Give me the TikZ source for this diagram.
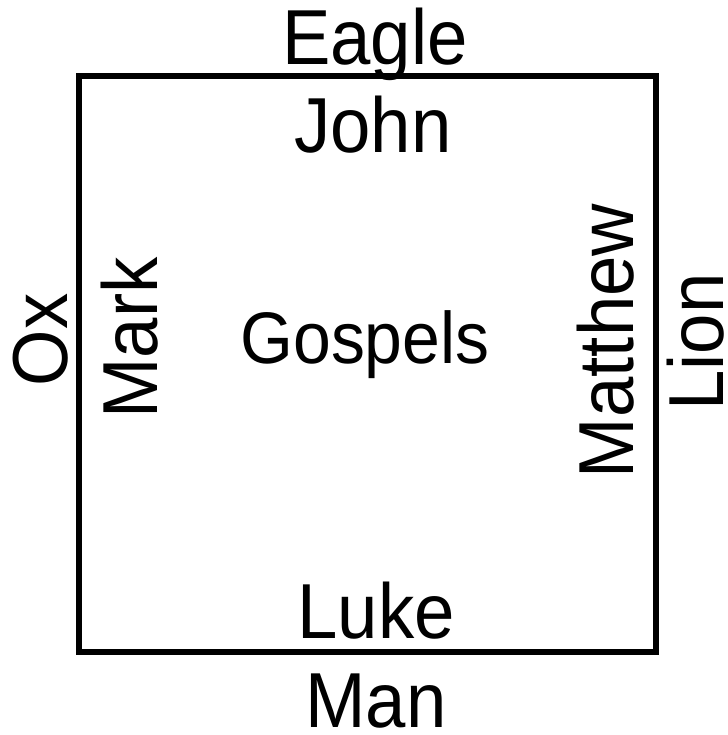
\documentclass[tikz,border=0pt]{standalone}
\usepackage{fontspec}
\setmainfont{Liberation Sans}[FakeStretch=0.93]
\usetikzlibrary{positioning}

\begin{document}
\begin{tikzpicture}[x=1pt,y=-1pt,
  word/.style={font=\fontsize{78}{80}\selectfont, inner sep=0pt, anchor=base},
  upword/.style={word, rotate=90}]
\useasboundingbox (0,0) rectangle (727,735);
\draw[line width=6pt] (79,76) rectangle (656,652);

% symbols outside, names inside
\node[word] (eagle) at (375,65) {Eagle};
\node[word] (john) at (373,153) {John};
\node[word, font=\fontsize{73}{75}\selectfont] (gospels) at (365,363) {Gospels};
\node[word] (luke) at (376,638) {Luke};
\node[word] (man) at (376,727) {Man};
\node[upword] (ox) at (67,340) {Ox};
\node[upword] (mark) at (157,338) {Mark};
\node[upword] (matthew) at (633,341) {Matthew};
\node[upword] (lion) at (723,342) {Lion};
\end{tikzpicture}
\end{document}
